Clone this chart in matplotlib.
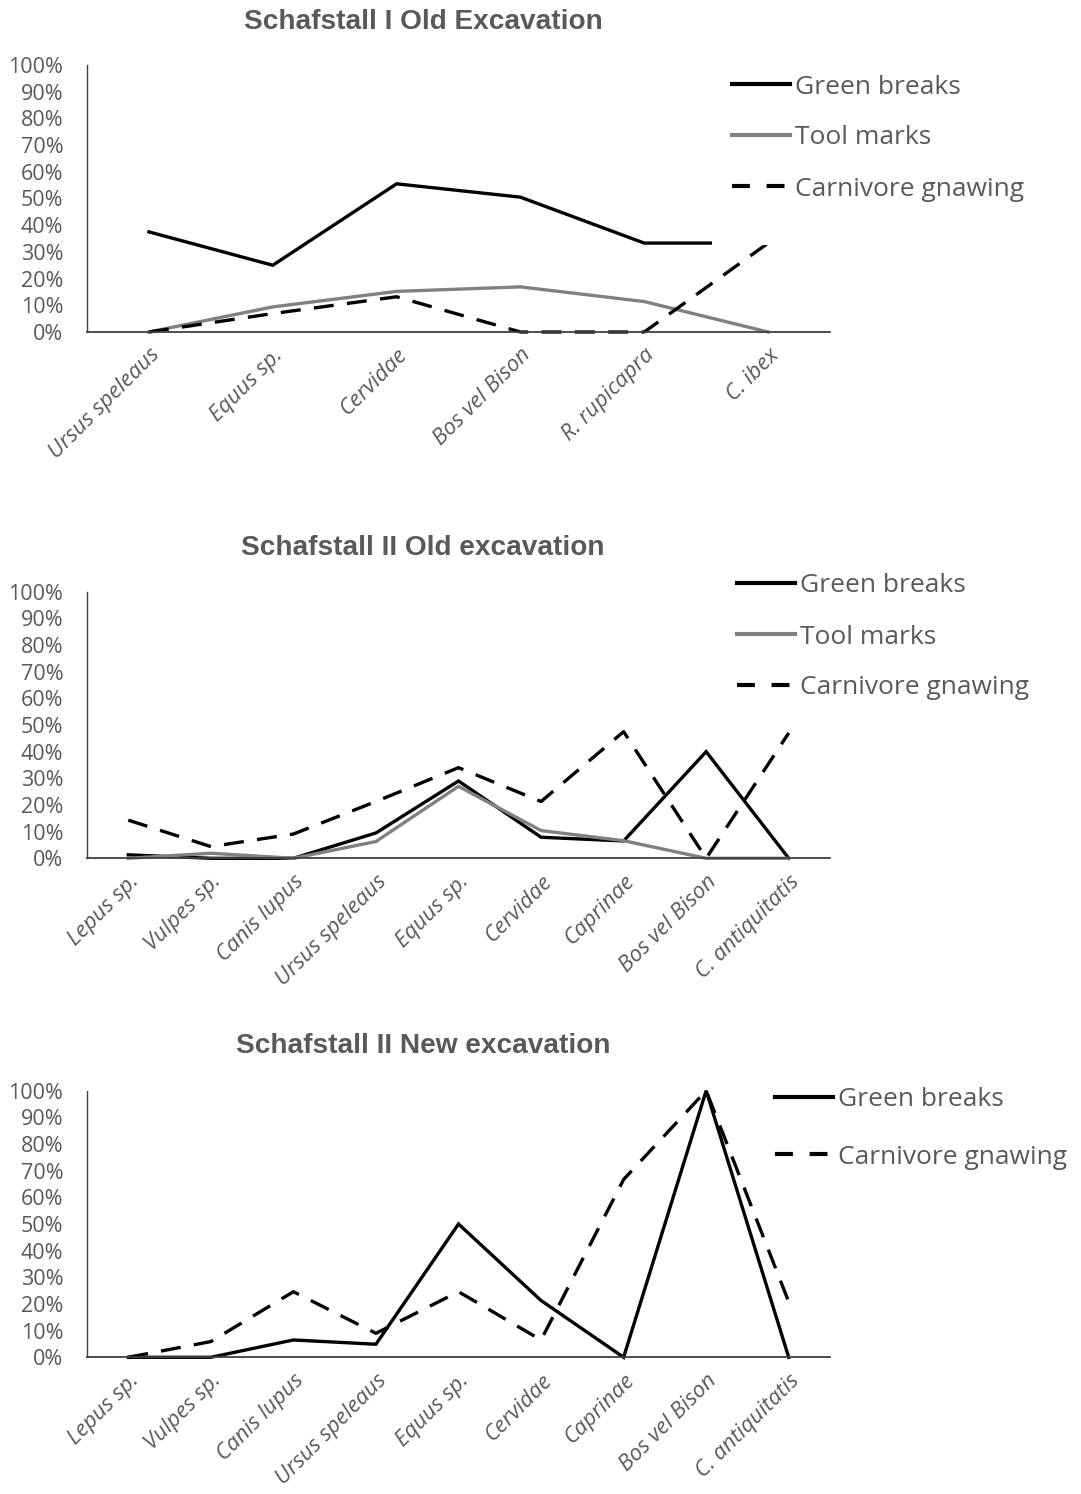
import matplotlib
matplotlib.use("Agg")
import matplotlib.pyplot as plt
from matplotlib.lines import Line2D
from matplotlib.patches import Rectangle
from matplotlib.ticker import FuncFormatter, MultipleLocator

# ---------------- data ----------------
cats1 = ["Ursus speleaus", "Equus sp.", "Cervidae", "Bos vel Bison", "R. rupicapra", "C. ibex"]
green1 = [37.5, 25.0, 55.5, 50.5, 33.3, 33.3]
tool1 = [0.0, 9.4, 15.2, 16.9, 11.4, 0.0]
carn1 = [0.0, 6.9, 13.2, 0.0, 0.0, 33.3]

cats2 = ["Lepus sp.", "Vulpes sp.", "Canis lupus", "Ursus speleaus", "Equus sp.",
         "Cervidae", "Caprinae", "Bos vel Bison", "C. antiquitatis"]
green2 = [1.3, 0.0, 0.0, 9.5, 29.0, 7.9, 6.5, 40.0, 0.0]
tool2 = [0.0, 1.9, 0.0, 6.3, 27.0, 10.4, 6.6, 0.0, 0.0]
carn2 = [14.3, 4.4, 9.1, 21.3, 34.0, 21.3, 47.5, 0.0, 47.0]

cats3 = ["Lepus sp.", "Vulpes sp.", "Canis lupus", "Ursus speleaus", "Equus sp.",
         "Cervidae", "Caprinae", "Bos vel Bison", "C. antiquitatis"]
green3 = [0.0, 0.0, 6.5, 4.9, 50.0, 21.3, 0.0, 100.0, 0.0]
carn3 = [0.0, 5.9, 24.6, 9.0, 24.6, 6.5, 66.7, 100.0, 20.8]

titles = ["Schafstall I Old Excavation", "Schafstall II Old excavation", "Schafstall II New excavation"]

# ---------------- style ----------------
W, H = 1081, 1494
TXT = "#595959"
GREY = "#808080"
LW = 2.4
DASH = (0, (6, 4))
TICKFONT = "Open Sans"
TICKSIZE = 15.5
XTICKSIZE = 16
LEGSIZE = 19
TITLESIZE = 20.2

fig = plt.figure(figsize=(W / 100, H / 100), dpi=100)
fig.patch.set_facecolor("white")


def fx(px):
    return px / W


def fy(py):
    return 1 - py / H


def make_axes(top_px, bottom_px):
    ax = fig.add_axes([fx(87), fy(bottom_px), fx(830) - fx(87), fy(top_px) - fy(bottom_px)])
    return ax


def style_axes(ax, cats):
    n = len(cats)
    ax.set_xlim(-0.5, n - 0.5)
    ax.set_ylim(0, 100)
    ax.yaxis.set_major_locator(MultipleLocator(10))
    ax.yaxis.set_major_formatter(FuncFormatter(lambda v, p: f"{int(round(v))}%"))
    ax.set_xticks(range(n))
    ax.set_xticklabels(cats, rotation=45, ha="right", va="top", rotation_mode="anchor",
                       fontsize=XTICKSIZE, color=TXT, family=TICKFONT, style="italic")
    for lab in ax.get_yticklabels():
        lab.set_fontsize(TICKSIZE)
        lab.set_color(TXT)
        lab.set_family(TICKFONT)
    ax.tick_params(axis="both", length=0)
    ax.tick_params(axis="y", pad=17)
    ax.tick_params(axis="x", pad=9)
    for s in ["top", "right"]:
        ax.spines[s].set_visible(False)
    ax.spines["left"].set_color("#404040")
    ax.spines["left"].set_linewidth(1.0)
    ax.spines["bottom"].set_color("#404040")
    ax.spines["bottom"].set_linewidth(1.3)
    ax.set_facecolor("none")


def plot_series(ax, cats, values, kind):
    x = list(range(len(cats)))
    if kind == "green":
        ax.plot(x, values, color="black", lw=LW, solid_joinstyle="miter", clip_on=False)
    elif kind == "tool":
        ax.plot(x, values, color=GREY, lw=LW, solid_joinstyle="miter", clip_on=False)
    else:
        ax.plot(x, values, color="black", lw=LW, linestyle=DASH, clip_on=False)


def legend(labels, x_px, y_first_px, spacing_px):
    for i, lab in enumerate(labels):
        if lab == "Green breaks":
            h = Line2D([], [], color="black", lw=3)
        elif lab == "Tool marks":
            h = Line2D([], [], color=GREY, lw=3)
        else:
            h = Line2D([], [], color="black", lw=3, linestyle=(0, (4.3, 4.0)))
        y = y_first_px + i * spacing_px
        leg = fig.legend([h], [lab], loc="center left",
                         bbox_to_anchor=(fx(x_px), fy(y)), frameon=False,
                         handlelength=2.2, handletextpad=0.2, borderpad=0, borderaxespad=0,
                         prop={"family": TICKFONT, "size": LEGSIZE})
        for t in leg.get_texts():
            t.set_color(TXT)


# ---------------- chart 1 ----------------
ax1 = make_axes(65, 332)
style_axes(ax1, cats1)
plot_series(ax1, cats1, green1, "green")
plot_series(ax1, cats1, tool1, "tool")
plot_series(ax1, cats1, carn1, "carn")
# legend area of the chart covers part of the plot
fig.add_artist(Rectangle((fx(712), fy(245)), fx(1081) - fx(712), fy(40) - fy(245),
                         transform=fig.transFigure, facecolor="white", edgecolor="none", zorder=2))
legend(["Green breaks", "Tool marks", "Carnivore gnawing"], 732, 87, 51)
fig.text(fx(423), fy(22), titles[0], ha="center", va="center", fontsize=TITLESIZE,
         fontweight="bold", color=TXT, family="Liberation Sans")

# ---------------- chart 2 ----------------
ax2 = make_axes(591.7, 858.3)
style_axes(ax2, cats2)
plot_series(ax2, cats2, green2, "green")
plot_series(ax2, cats2, tool2, "tool")
plot_series(ax2, cats2, carn2, "carn")
legend(["Green breaks", "Tool marks", "Carnivore gnawing"], 737, 586, 51)
fig.text(fx(423), fy(548), titles[1], ha="center", va="center", fontsize=TITLESIZE,
         fontweight="bold", color=TXT, family="Liberation Sans")

# ---------------- chart 3 ----------------
ax3 = make_axes(1090.7, 1357.3)
style_axes(ax3, cats3)
plot_series(ax3, cats3, green3, "green")
plot_series(ax3, cats3, carn3, "carn")
legend(["Green breaks", "Carnivore gnawing"], 775, 1100, 57)
fig.text(fx(423), fy(1046), titles[2], ha="center", va="center", fontsize=TITLESIZE,
         fontweight="bold", color=TXT, family="Liberation Sans")

fig.savefig("out.png", dpi=100, facecolor="white")
